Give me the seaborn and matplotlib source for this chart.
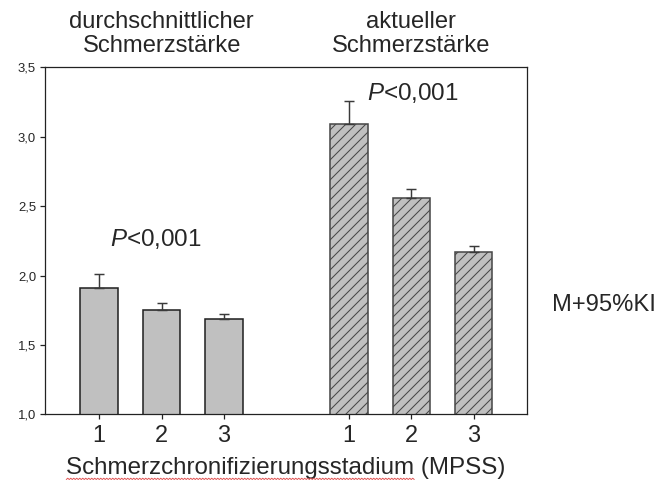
import numpy as np
import pandas as pd
import matplotlib
matplotlib.use("Agg")
import matplotlib.pyplot as plt
import matplotlib.transforms as mtransforms
from matplotlib.lines import Line2D
from matplotlib.ticker import FuncFormatter
import seaborn as sns

# --- data -------------------------------------------------------------
stages = ["1", "2", "3"]
measures = ["durchschnittlicher\nSchmerzstärke", "aktueller\nSchmerzstärke"]
mean_avg = [1.91, 1.75, 1.69]          # durchschnittliche Schmerzstärke, Mittelwert
ci_upper_avg = [2.01, 1.80, 1.72]      # obere Grenze 95%-KI
mean_cur = [3.09, 2.56, 2.17]          # aktuelle Schmerzstärke, Mittelwert
ci_upper_cur = [3.26, 2.62, 2.21]      # obere Grenze 95%-KI
p_labels = ["$P$<0,001", "$P$<0,001"]
y_ticks = [1.0, 1.5, 2.0, 2.5, 3.0, 3.5]
x_label = "Schmerzchronifizierungsstadium (MPSS)"
side_note = "M+95%KI"

# --- style ------------------------------------------------------------
sns.set_style("ticks")
plt.rcParams["font.family"] = ["Liberation Sans", "DejaVu Sans"]
plt.rcParams["mathtext.fontset"] = "custom"
plt.rcParams["mathtext.rm"] = "Liberation Sans"
plt.rcParams["mathtext.it"] = "Liberation Sans:italic"
plt.rcParams["hatch.linewidth"] = 0.5

DPI = 150
fig = plt.figure(figsize=(660 / DPI, 483 / DPI), dpi=DPI)
ax = fig.add_axes([0.068, 0.1422, 0.7305, 0.7185])

# one block of bars per measure, separated by an empty slot
gap = len(stages) + 1
rows = []
for g, (means, uppers) in enumerate([(mean_avg, ci_upper_avg), (mean_cur, ci_upper_cur)]):
    for i, st in enumerate(stages):
        rows.append({"measure": measures[g], "group": g, "stage": st,
                     "pos": g * gap + i, "mean": means[i], "upper": uppers[i]})
df = pd.DataFrame(rows)

fill = "#c0c0c0"
styles = [dict(edgecolor="#222222", hatch=None),
          dict(edgecolor="#484848", hatch="/////")]
for g, sub in df.groupby("group"):
    st = styles[g]
    kw = dict(data=sub, x="pos", y="mean", native_scale=True, width=0.6,
              color=fill, saturation=1, edgecolor=st["edgecolor"],
              linewidth=0.75, errorbar=None, ax=ax)
    if st["hatch"]:
        kw["hatch"] = st["hatch"]
    sns.barplot(**kw)
    ax.errorbar(sub["pos"], sub["mean"],
                yerr=[np.zeros(len(sub)), sub["upper"] - sub["mean"]],
                fmt="none", ecolor="#3a3a3a", elinewidth=0.7,
                capsize=2.6, capthick=0.7, zorder=3)

# --- axes -------------------------------------------------------------
ax.set_ylim(1.0, 3.5)
ax.set_xlim(-0.87, 6.854)
ax.set_yticks(y_ticks)
ax.yaxis.set_major_formatter(FuncFormatter(lambda v, _: f"{v:.1f}".replace(".", ",")))
ax.set_xticks(df["pos"])
ax.set_xticklabels(df["stage"])
ax.tick_params(axis="y", direction="out", length=2.4, width=0.6,
               labelsize=6.3, pad=1.8, color="#222222")
ax.tick_params(axis="x", direction="out", length=2.4, width=0.6,
               labelsize=11.3, pad=2.8, color="#222222")
for s in ax.spines.values():
    s.set_visible(True)
    s.set_linewidth(0.6)
    s.set_color("#222222")
ax.set_xlabel(x_label, fontsize=11.6, labelpad=4.5)
ax.set_ylabel("")

# group titles above the frame and P-values inside it
blend = mtransforms.blended_transform_factory(ax.transData, fig.transFigure)
for g, title in enumerate(measures):
    centre = g * gap + (len(stages) - 1) / 2
    first, second = title.split("\n")
    ax.text(centre, 1 - 27.5 / 483, first, transform=blend, ha="center",
            va="baseline", fontsize=11.4)
    ax.text(centre, 1 - 52.5 / 483, second, transform=blend, ha="center",
            va="baseline", fontsize=11.4)

ax.text(0.91, 2.213, p_labels[0], ha="center", va="baseline", fontsize=11.6)
ax.text(5.02, 3.264, p_labels[1], ha="center", va="baseline", fontsize=11.6)

fig.text(604 / 660, 1 - 311 / 483, side_note, ha="center", va="baseline",
         fontsize=11.4)

# spell-check squiggle under the first word of the axis label
fig.canvas.draw()
renderer = fig.canvas.get_renderer()
lab = ax.xaxis.label
bb = lab.get_window_extent(renderer)
word = x_label.split(" ")[0]
probe = fig.text(0, 0, word, fontsize=lab.get_fontsize())
w = probe.get_window_extent(renderer).width
probe.remove()
xs = np.arange(bb.x0, bb.x0 + w, 1.5)
ys = bb.y0 - 1.0 + np.where(np.arange(len(xs)) % 2 == 0, 0.0, 1.3)
fig.add_artist(Line2D(xs / fig.bbox.width, ys / fig.bbox.height,
                      color="#e05050", lw=0.45, transform=fig.transFigure))

fig.savefig("out.png", dpi=DPI)
